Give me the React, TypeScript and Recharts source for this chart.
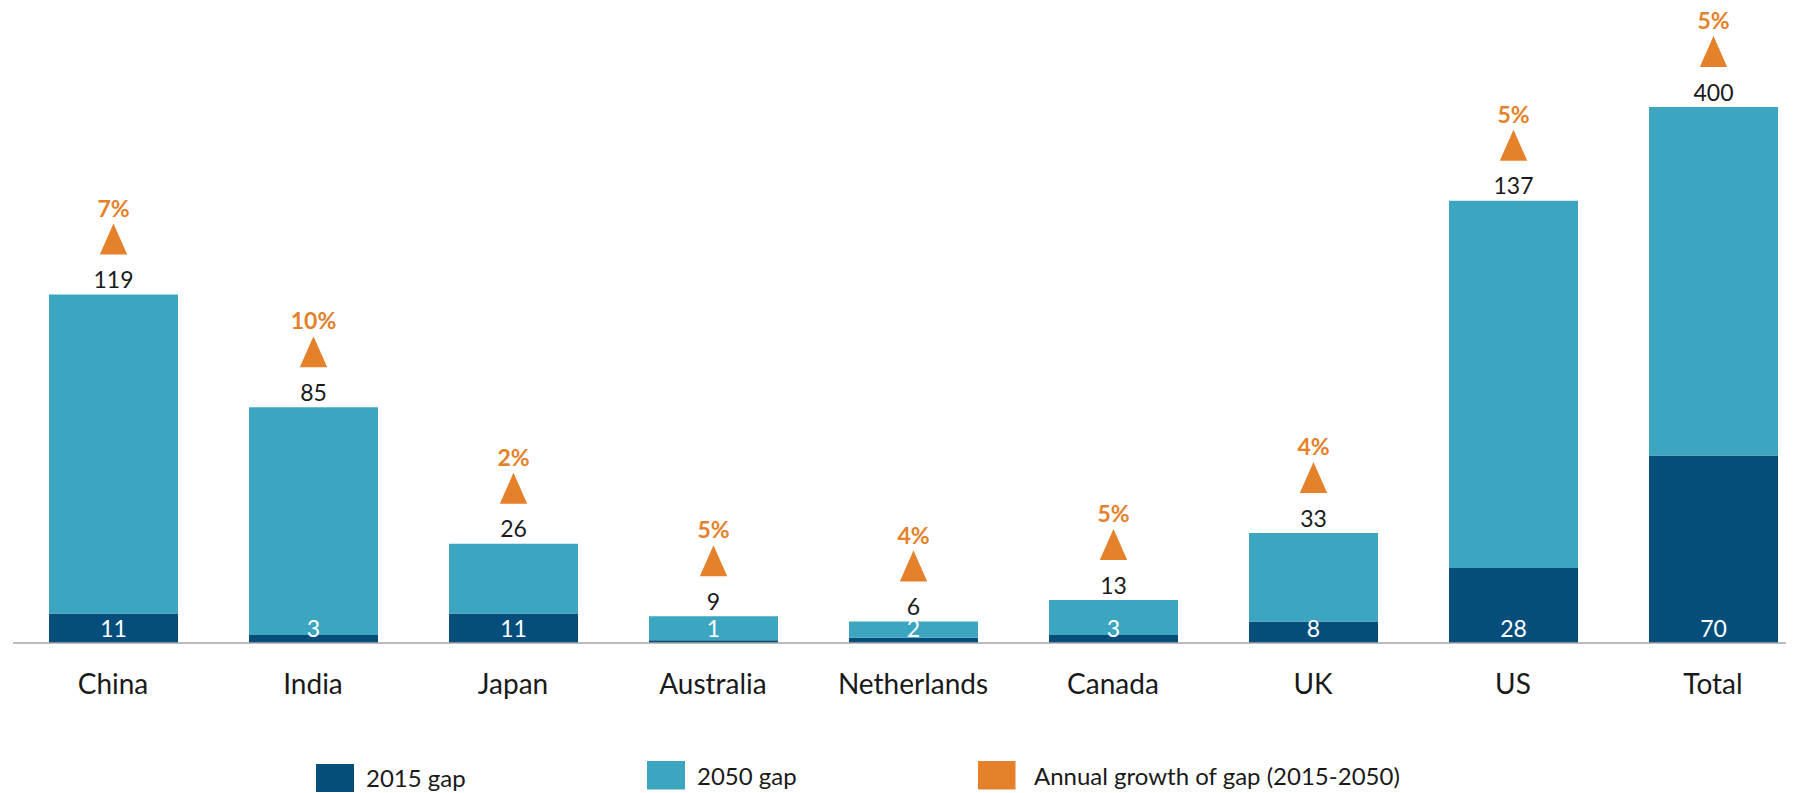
import React from 'react';
import { BarChart, Bar, XAxis, YAxis, LabelList } from 'recharts';

const categories = ['China', 'India', 'Japan', 'Australia', 'Netherlands', 'Canada', 'UK', 'US', 'Total'];
const gap2015 = [11, 3, 11, 1, 2, 3, 8, 28, 70];
const gap2050 = [119, 85, 26, 9, 6, 13, 33, 137, 400];
const growth = ['7%', '10%', '2%', '5%', '4%', '5%', '4%', '5%', '5%'];
const legendLabels = ['2015 gap', '2050 gap', 'Annual growth of gap (2015-2050)'];

const DARK = '#054e7b';
const LIGHT = '#3ca6c0';
const ORANGE = '#e4812a';
const TEXT = '#1a1a1a';
const AXIS = '#a6a6a6';
const FONT = 'Lato, "Open Sans", sans-serif';

const data = categories.map((c, i) => ({
  name: c,
  gap2015: gap2015[i],
  gap2050: gap2050[i],
  growth: growth[i],
}));

const MARGIN = { top: 107, right: 5, left: 13, bottom: 0 };
const CHART_W = 1818;
const CHART_H = 793;
const XAXIS_H = 150;

function box(props: any) {
  const vb = props.viewBox ?? props;
  let x = Number(vb.x);
  let y = Number(vb.y);
  let width = Number(vb.width);
  let height = Number(vb.height);
  if (height < 0) {
    y = y + height;
    height = -height;
  }
  return { x, y, width, height };
}

const TopLabel = (props: any) => {
  const { x, y, width } = box(props);
  const top = Math.max(y, MARGIN.top);
  const cx = x + width / 2;
  const idx = props.index;
  const value = idx != null ? gap2050[idx] : props.value;
  const g = idx != null ? growth[idx] : '';
  return (
    <g>
      <text x={cx} y={top - 6.5} textAnchor="middle" fontFamily={FONT} fontSize={23} fill={TEXT}>
        {value}
      </text>
      <polygon
        points={`${cx - 13.7},${top - 40} ${cx + 13.7},${top - 40} ${cx},${top - 71}`}
        fill={ORANGE}
      />
      <text x={cx} y={top - 78} textAnchor="middle" fontFamily={FONT} fontSize={23} fontWeight={700} fill={ORANGE}>
        {g}
      </text>
    </g>
  );
};

const BottomLabel = (props: any) => {
  const { x, y, width, height } = box(props);
  const bottom = y + height;
  const cx = x + width / 2;
  const idx = props.index;
  const value = idx != null ? gap2015[idx] : props.value;
  return (
    <text x={cx} y={bottom - 6} textAnchor="middle" fontFamily={FONT} fontSize={23} fill="#ffffff">
      {value}
    </text>
  );
};

const CategoryTick = (props: any) => {
  const { x, y, payload } = props;
  return (
    <text x={x} y={y + 50.6} textAnchor="middle" fontFamily={FONT} fontSize={28} fill={TEXT}>
      {payload.value}
    </text>
  );
};

const legendItems = [
  { label: legendLabels[0], color: DARK, sx: 316, sy: 764, sw: 38, sh: 28, tx: 366, ty: 787 },
  { label: legendLabels[1], color: LIGHT, sx: 647, sy: 761, sw: 38, sh: 28.5, tx: 697, ty: 785 },
  { label: legendLabels[2], color: ORANGE, sx: 978, sy: 761, sw: 37.5, sh: 28.5, tx: 1034, ty: 785 },
];

export default function App() {
  return (
    <div style={{ position: 'relative', width: 1794, height: CHART_H, overflow: 'hidden', margin: '-8px 0 0 -8px' }}>
      <BarChart width={CHART_W} height={CHART_H} data={data} margin={MARGIN} barSize={129}>
        <YAxis hide domain={[0, 200]} allowDataOverflow type="number" />
        <XAxis
          dataKey="name"
          height={XAXIS_H}
          axisLine={{ stroke: AXIS, strokeWidth: 1.5 }}
          tickLine={false}
          tickSize={0}
          tickMargin={0}
          tick={<CategoryTick />}
          interval={0}
        />
        <Bar dataKey="gap2015" stackId="a" fill={DARK} isAnimationActive={false}>
          <LabelList dataKey="gap2015" content={<BottomLabel />} />
        </Bar>
        <Bar dataKey="gap2050" stackId="a" fill={LIGHT} isAnimationActive={false}>
          <LabelList dataKey="gap2050" content={<TopLabel />} />
        </Bar>
      </BarChart>
      <svg
        width={1794}
        height={CHART_H}
        style={{ position: 'absolute', left: 0, top: 0, pointerEvents: 'none' }}
      >
        {legendItems.map((it) => (
          <g key={it.label}>
            <rect x={it.sx} y={it.sy} width={it.sw} height={it.sh} fill={it.color} />
            <text x={it.tx} y={it.ty} fontFamily={FONT} fontSize={24} fill={TEXT}>
              {it.label}
            </text>
          </g>
        ))}
      </svg>
    </div>
  );
}
